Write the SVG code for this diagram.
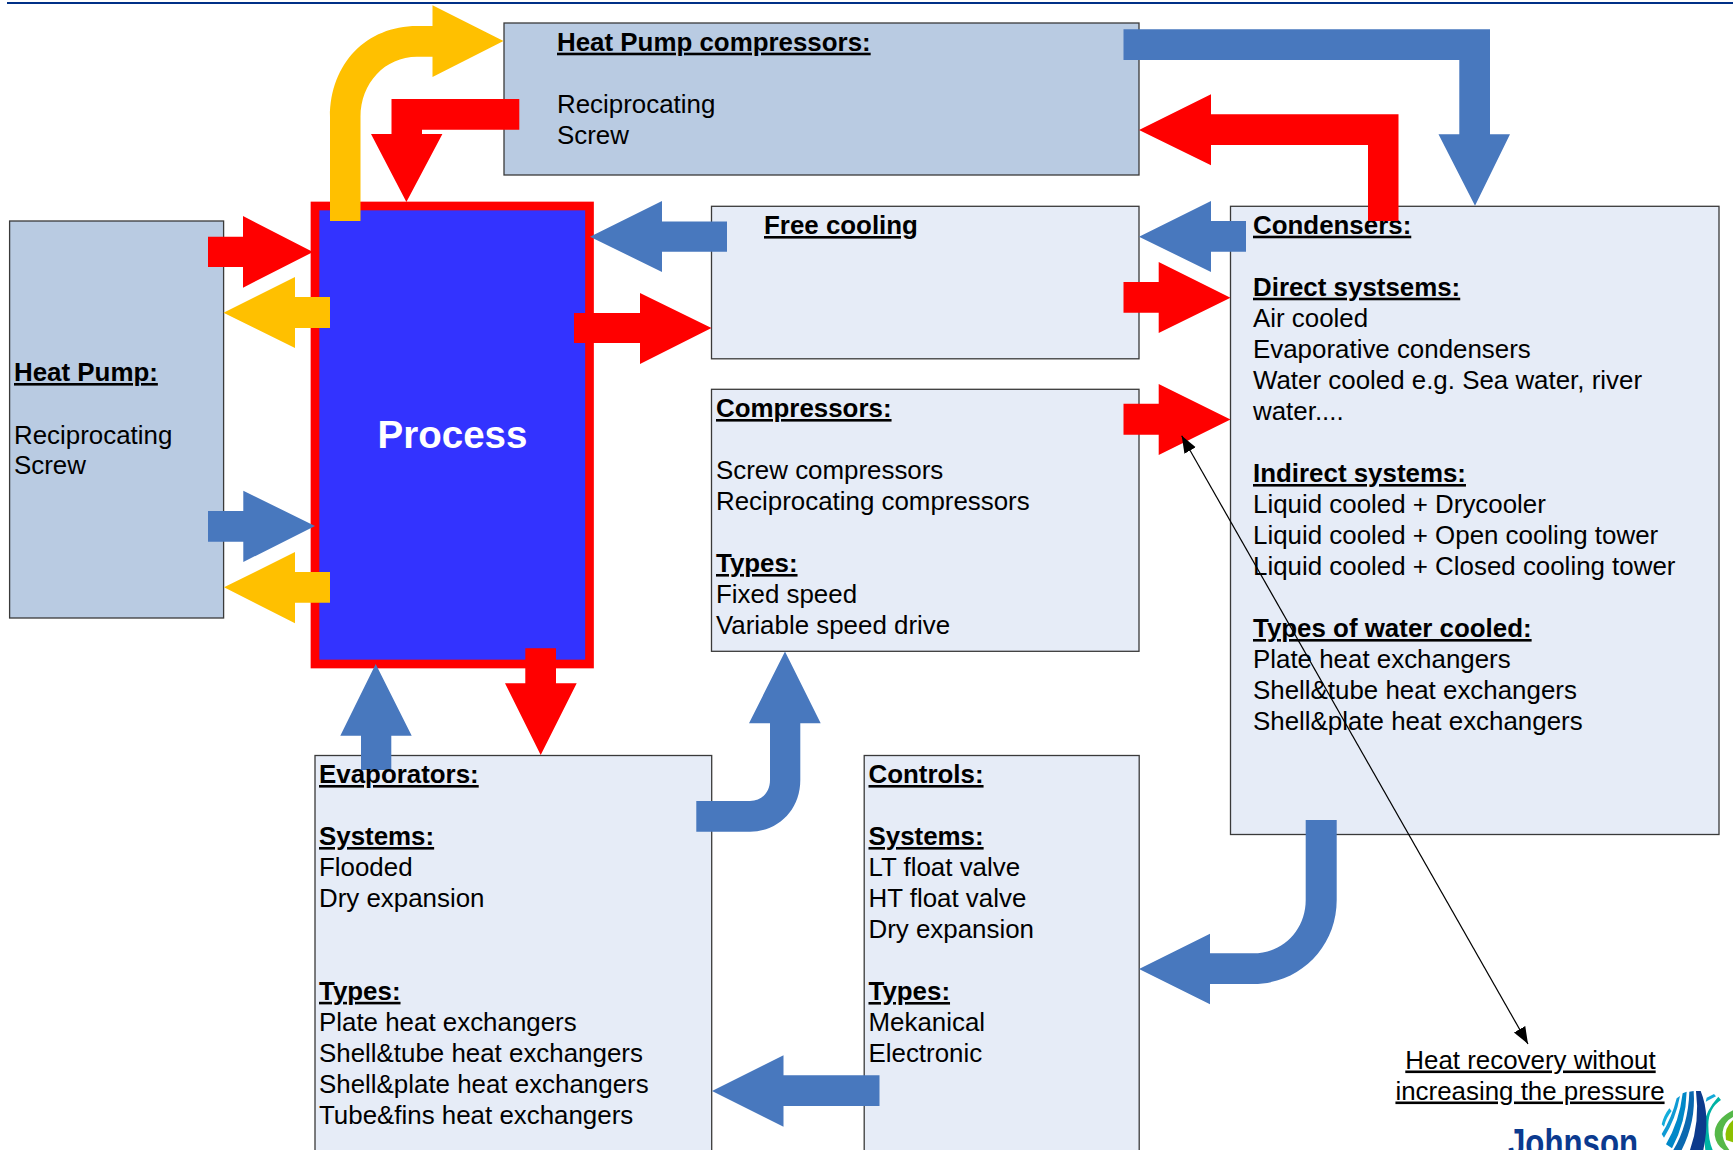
<svg xmlns="http://www.w3.org/2000/svg" width="1733" height="1150" viewBox="0 0 1733 1150">
<style>
text{font-family:"Liberation Sans",Arial,sans-serif;font-size:25.9px;fill:#000}
.h{font-weight:bold;text-decoration:underline}
.u{text-decoration:underline}
.dark{fill:#b9cbe2;stroke:#3a3a3a;stroke-width:1.3}
.light{fill:#e6ecf7;stroke:#3a3a3a;stroke-width:1.3}
.r{fill:#f00}.b{fill:#4878be}.g{fill:#ffc000}
</style>
<defs>
<marker id="tip" markerUnits="userSpaceOnUse" markerWidth="18" markerHeight="14" refX="17" refY="6.5" orient="auto-start-reverse"><path d="M0 0L17 6.5L0 13z" fill="#000"/></marker>
</defs>
<rect width="1733" height="1150" fill="#fff"/>
<rect id="top-rule" x="7" y="2" width="1726" height="2" fill="#003087"/>
<g id="node-heat-pump"><rect class="dark" x="9.6" y="221" width="214" height="397"/>
<text class="h" x="14" y="381">Heat Pump:</text><text x="14" y="443.5">Reciprocating</text><text x="14" y="474">Screw</text></g>
<g id="node-hp-compressors"><rect class="dark" x="504" y="23" width="635" height="152"/>
<text class="h" x="557" y="50.7">Heat Pump compressors:</text><text x="557" y="113">Reciprocating</text><text x="557" y="144">Screw</text></g>
<g id="node-process"><rect x="315" y="206" width="274.5" height="458" fill="#33f" stroke="#f00" stroke-width="8.7"/>
<text x="452.5" y="447.5" text-anchor="middle" style="font-size:38.5px;font-weight:bold;fill:#fff">Process</text></g>
<g id="node-free-cooling"><rect class="light" x="711.5" y="206.3" width="427.5" height="152.5"/>
<text class="h" x="764" y="234">Free cooling</text></g>
<g id="node-compressors"><rect class="light" x="711.5" y="389.3" width="427.5" height="262"/>
<text class="h" x="716" y="417">Compressors:</text><text x="716" y="479">Screw compressors</text><text x="716" y="510.2">Reciprocating compressors</text><text class="h" x="716" y="572">Types:</text><text x="716" y="603.2">Fixed speed</text><text x="716" y="634.3">Variable speed drive</text></g>
<g id="node-condensers"><rect class="light" x="1230.5" y="206.3" width="488.5" height="628.2"/>
<text class="h" x="1253" y="233.7">Condensers:</text><text class="h" x="1253" y="295.7">Direct systsems:</text><text x="1253" y="327">Air cooled</text><text x="1253" y="358">Evaporative condensers</text><text x="1253" y="389">Water cooled e.g. Sea water, river</text><text x="1253" y="420">water....</text><text class="h" x="1253" y="482">Indirect systems:</text><text x="1253" y="513">Liquid cooled + Drycooler</text><text x="1253" y="544">Liquid cooled + Open cooling tower</text><text x="1253" y="575">Liquid cooled + Closed cooling tower</text><text class="h" x="1253" y="637">Types of water cooled:</text><text x="1253" y="668">Plate heat exchangers</text><text x="1253" y="699">Shell&amp;tube heat exchangers</text><text x="1253" y="730">Shell&amp;plate heat exchangers</text></g>
<g id="node-evaporators"><rect class="light" x="315" y="755.5" width="396.7" height="410"/>
<text class="h" x="319" y="845">Systems:</text><text x="319" y="875.8">Flooded</text><text x="319" y="906.8">Dry expansion</text><text class="h" x="319" y="999.8">Types:</text><text x="319" y="1031">Plate heat exchangers</text><text x="319" y="1062">Shell&amp;tube heat exchangers</text><text x="319" y="1093">Shell&amp;plate heat exchangers</text><text x="319" y="1124">Tube&amp;fins heat exchangers</text></g>
<g id="node-controls"><rect class="light" x="864.2" y="755.5" width="275" height="410"/>
<text class="h" x="868.5" y="783">Controls:</text><text class="h" x="868.5" y="845">Systems:</text><text x="868.5" y="876">LT float valve</text><text x="868.5" y="907">HT float valve</text><text x="868.5" y="938">Dry expansion</text><text class="h" x="868.5" y="1000">Types:</text><text x="868.5" y="1031">Mekanical</text><text x="868.5" y="1062">Electronic</text></g>
<g id="connectors">
<path class="g" d="M330 221V117C330 63 367 26 417 26H432.5V5.3L503.5 41L432.5 77V56.7H417C385 56.7 360.5 83 360.5 117V221z"/>
<path class="r" d="M519.3 99H391.5V134H371L406.4 202L442.4 134H422V129.7H519.3z"/>
<path class="r" d="M208 236.7H243V216L313 252L243 287.7V267H208z"/>
<path class="g" d="M330 297H295V277L223.5 312.7L295 348V328H330z"/>
<path class="b" d="M208 511H243.3V490.7L315 526L243.3 562V541.7H208z"/>
<path class="g" d="M330 572H295V552L224 587.3L295 623.3V602.7H330z"/>
<path class="r" d="M574 313H640V293L711.5 328L640 364V343H574z"/>
<path class="b" d="M727 221.5H662V201L590 236.7L662 272V251.7H727z"/>
<path class="r" d="M525.3 648.3H556V683.3H576.7L540.7 755L505 683.3H525.3z"/>
<path class="b" d="M361 770V735.7H340.3L375.7 664L411.7 735.7H391.3V770z"/>
<path class="b" d="M696.3 801H750C762 801 770 792 770 780V723.3H749L785 651.5L820.7 723.3H800.3V780C800.3 810 778 831.7 750 831.7H696.3z"/>
<path class="b" d="M879.5 1075.3H783.5V1055.3L712 1091L783.5 1126.7V1106H879.5z"/>
<path class="b" d="M1305.7 820H1336.7V900C1336.7 947 1300 984 1253 984H1210V1004.3L1139 969L1210 933.7V953.3H1253C1283 953.3 1305.7 930 1305.7 900z"/>
<path class="b" d="M1123.5 29.3H1490V134.3H1510L1475 205.7L1438.5 134.3H1459.3V60H1123.5z"/>
<path class="r" d="M1398.5 221V114.3H1211V94.3L1139 130L1211 165.3V145H1368V221z"/>
<path class="b" d="M1246 221H1211V201L1139 236.7L1211 272V251.7H1246z"/>
<path class="r" d="M1123.5 282H1158.7V262L1230.5 297.7L1158.7 333V312.7H1123.5z"/>
<path class="r" d="M1123.5 403.7H1158.7V384L1230.5 419.5L1158.7 455V434.7H1123.5z"/>
<line x1="1181.7" y1="435.7" x2="1528" y2="1044" stroke="#000" stroke-width="1.2" marker-start="url(#tip)" marker-end="url(#tip)"/>
</g>
<g id="evaporators-heading"><text class="h" x="319" y="783">Evaporators:</text></g>
<g id="note"><text class="u" x="1530.5" y="1068.5" text-anchor="middle">Heat recovery without</text><text class="u" x="1530" y="1099.5" text-anchor="middle">increasing the pressure</text></g>
<g id="logo">
<text x="1508" y="1156" textLength="130" lengthAdjust="spacingAndGlyphs" style="font-size:38px;font-weight:bold;fill:#0b3a8f">Johnson</text>
<g transform="translate(1640 1085) scale(.3333)">
<path fill="#8cc000" d="M279 105Q250 130 258 165L279 172z"/>
<path fill="#55b848" d="M279 76Q222 105 224 150Q228 180 252 195L268 195Q245 165 248 140Q252 110 279 96z"/>
<path fill="#00b3a4" d="M243 45Q205 70 205 120Q205 165 218 195L196 195Q190 160 192 120Q195 80 235 35z"/>
<path fill="#14a9d8" d="M222 27L200 38L197 50L228 34z"/>
<path fill="#14aedb" d="M88 70L95 78Q78 98 72 125L65 118Q72 90 88 70z"/>
<path fill="#0f9ad4" d="M110 40L120 33Q108 100 72 158L65 147Q95 100 110 40z"/>
<path fill="#0088c8" d="M128 25L140 20Q138 110 96 190L78 178Q118 110 128 25z"/>
<path fill="#0a68b0" d="M148 20L161 18Q168 110 125 195H100Q145 120 148 20z"/>
<path fill="#0d3a8c" d="M168 18L182 18Q212 90 190 195H150Q180 110 168 18z"/>
</g></g>
</svg>
